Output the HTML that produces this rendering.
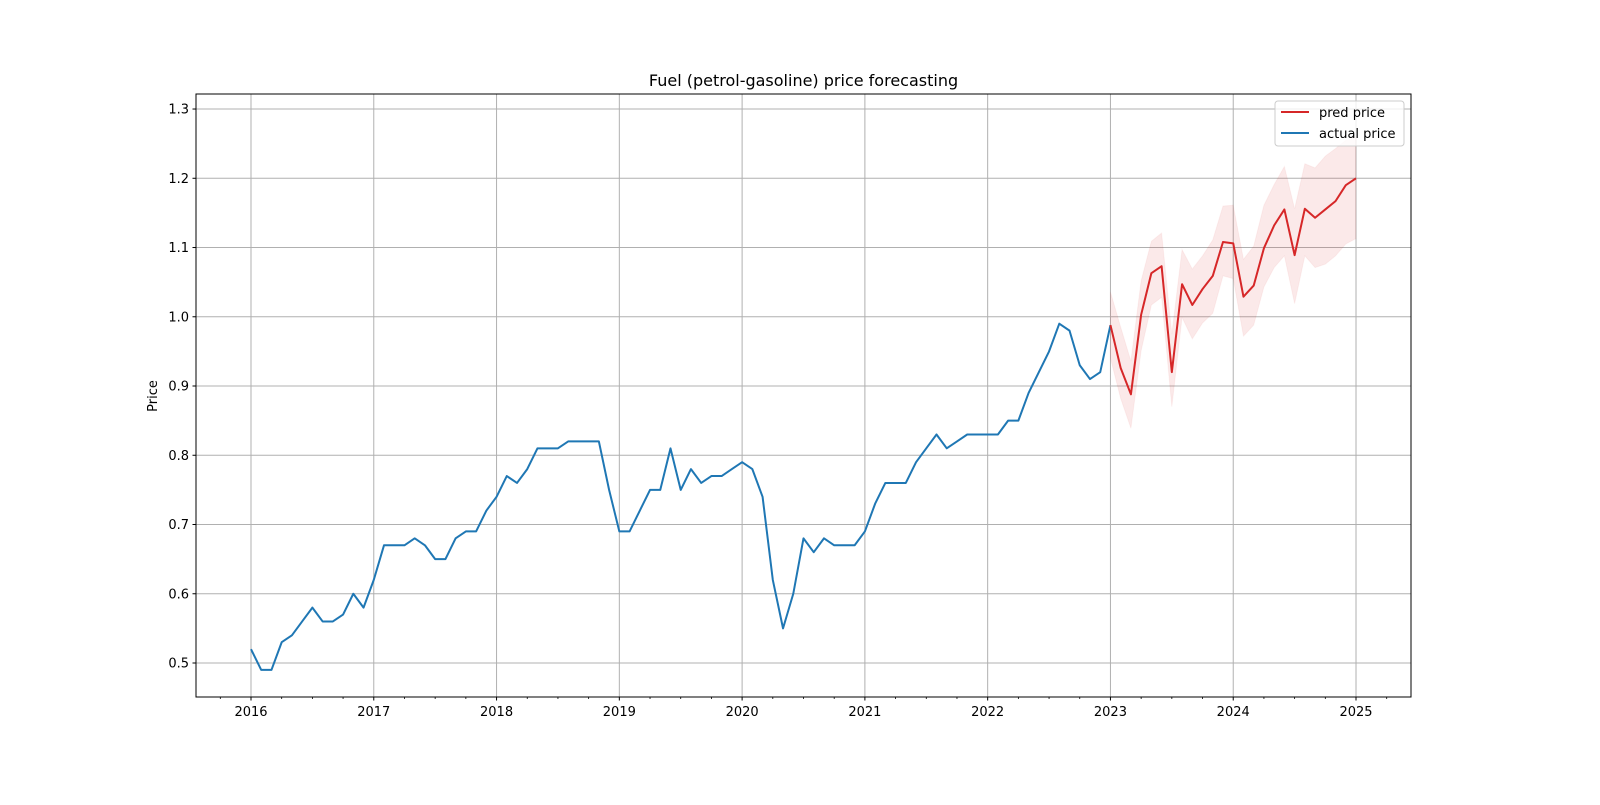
<!DOCTYPE html>
<html><head><meta charset="utf-8"><style>
body{margin:0;background:#fff;}
svg text{font-family:"DejaVu Sans","Liberation Sans",sans-serif;fill:#000;}
</style></head><body>
<svg id="chart" width="1600" height="800" viewBox="0 0 1600 800" xmlns="http://www.w3.org/2000/svg">
<rect width="1600" height="800" fill="#fff"/>
<text x="803.5" y="86" font-size="16" text-anchor="middle">Fuel (petrol-gasoline) price forecasting</text>
<text transform="translate(157,396) rotate(-90)" font-size="13" text-anchor="middle">Price</text>
<g id="grid"></g><g id="band"></g><g id="lines"></g><g id="axes"></g>
<g>
<rect x="1275" y="101" width="129" height="45" rx="3" fill="#fff" fill-opacity="0.8" stroke="#ccc"/>
<line x1="1281" y1="112" x2="1309" y2="112" stroke="#d62728" stroke-width="2"/>
<text x="1319" y="117" font-size="13">pred price</text>
<line x1="1281" y1="133" x2="1309" y2="133" stroke="#1f77b4" stroke-width="2"/>
<text x="1319" y="138" font-size="13">actual price</text>
</g>
</svg>
<script>
const actualValues=[.52,.49,.49,.53,.54,.56,.58,.56,.56,.57,.60,.58,
.62,.67,.67,.67,.68,.67,.65,.65,.68,.69,.69,.72,
.74,.77,.76,.78,.81,.81,.81,.82,.82,.82,.82,.75,
.69,.69,.72,.75,.75,.81,.75,.78,.76,.77,.77,.78,
.79,.78,.74,.62,.55,.60,.68,.66,.68,.67,.67,.67,
.69,.73,.76,.76,.76,.79,.81,.83,.81,.82,.83,.83,
.83,.83,.85,.85,.89,.92,.95,.99,.98,.93,.91,.92,.988];
const predValues=[.988,.926,.888,1.003,1.063,1.073,.92,1.047,1.017,1.040,1.059,1.108,1.106,1.029,1.045,1.099,1.132,1.155,1.089,1.156,1.143,1.155,1.167,1.190,1.2];
const predUpper=[1.036,.985,.936,1.052,1.109,1.121,.975,1.097,1.069,1.088,1.111,1.160,1.161,1.083,1.102,1.161,1.191,1.217,1.156,1.221,1.215,1.232,1.243,1.255,1.26];
const predLower=[.94,.882,.839,.951,1.017,1.028,.870,.999,.968,.991,1.005,1.059,1.055,.972,.988,1.043,1.071,1.088,1.019,1.088,1.071,1.076,1.088,1.105,1.113];
const yTicks=[0.5,0.6,0.7,0.8,0.9,1.0,1.1,1.2,1.3];
const xTickYears=[2016,2017,2018,2019,2020,2021,2022,2023,2024,2025];
const actualStart=2016, predStart=2023;

const L=196,R=1411,T=94,B=697;
const x0=2015.5521,x1=2025.4479,y0=0.4509,y1=1.3217;
const sx=v=>L+(v-x0)/(x1-x0)*(R-L);
const sy=v=>B-(v-y0)/(y1-y0)*(B-T);
const NS="http://www.w3.org/2000/svg";
function mk(tag,attrs,parent){const e=document.createElementNS(NS,tag);for(const k in attrs)e.setAttribute(k,attrs[k]);parent.appendChild(e);return e;}
const grid=document.getElementById('grid'),axes=document.getElementById('axes'),band=document.getElementById('band'),lines=document.getElementById('lines');
yTicks.forEach(v=>{
  const g=mk('line',{x1:L,x2:R,y1:sy(v),y2:sy(v),stroke:'#b0b0b0','stroke-width':1},grid);
  
  
  mk('line',{x1:L-3.5,x2:L,y1:sy(v),y2:sy(v),stroke:'#000'},axes);
  const t=mk('text',{x:L-7,y:sy(v)+4.5,'font-size':13,'text-anchor':'end'},axes);
  t.textContent=v.toFixed(1);
  
  
});
xTickYears.forEach(v=>{
  const g=mk('line',{x1:sx(v),x2:sx(v),y1:T,y2:B,stroke:'#b0b0b0','stroke-width':1},grid);
  
  
  mk('line',{x1:sx(v),x2:sx(v),y1:B,y2:B+3.5,stroke:'#000'},axes);
  const t=mk('text',{x:sx(v),y:B+19,'font-size':13,'text-anchor':'middle'},axes);
  t.textContent=v;
  
  
});
for(let q=2015.75;q<2025.5;q+=0.25){if(Math.abs(q-Math.round(q))<1e-6)continue;mk('line',{x1:sx(q),x2:sx(q),y1:B,y2:B+2,stroke:'#000','stroke-width':0.8},axes);}
const fr=mk('rect',{x:L,y:T,width:R-L,height:B-T,fill:'none',stroke:'#000','stroke-width':1},axes);



const px=(start,i)=>sx(start+i/12);
let up=predUpper.map((v,i)=>px(predStart,i)+','+sy(v));
let lo=predLower.map((v,i)=>px(predStart,i)+','+sy(v)).reverse();
const bp=mk('polygon',{points:up.concat(lo).join(' '),fill:'#d62728','fill-opacity':0.1,stroke:'#d62728','stroke-opacity':0.05},band);


const al=mk('polyline',{points:actualValues.map((v,i)=>px(actualStart,i)+','+sy(v)).join(' '),fill:'none',stroke:'#1f77b4','stroke-width':2,'stroke-linejoin':'round'},lines);


const pl=mk('polyline',{points:predValues.map((v,i)=>px(predStart,i)+','+sy(v)).join(' '),fill:'none',stroke:'#d62728','stroke-width':2,'stroke-linejoin':'round'},lines);


</script>
</body></html>
